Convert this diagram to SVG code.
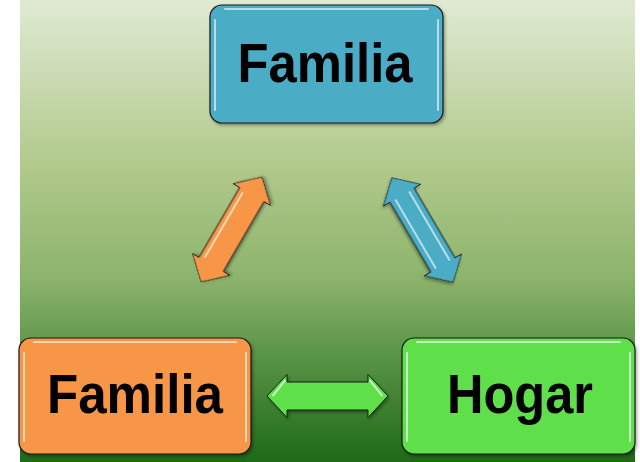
<svg xmlns="http://www.w3.org/2000/svg" width="640" height="462" viewBox="0 0 640 462">
<defs>
<linearGradient id="bg" x1="0" y1="0" x2="0" y2="1">
<stop offset="0" stop-color="#e0ead3"/>
<stop offset="0.35" stop-color="#b2ca8d"/>
<stop offset="0.6" stop-color="#8db46c"/>
<stop offset="0.75" stop-color="#5f984a"/>
<stop offset="1" stop-color="#1e6a16"/>
</linearGradient>
<filter id="sh" x="-10%" y="-10%" width="125%" height="130%">
<feDropShadow dx="1.5" dy="2" stdDeviation="1.5" flood-color="#000" flood-opacity="0.35"/>
</filter>
<path id="dbl" d="M-60.5,0 L-40.5,-21.5 L-40.5,-14 L40.5,-14 L40.5,-21.5 L60.5,0 L40.5,21.5 L40.5,14 L-40.5,14 L-40.5,21.5 Z"/>
</defs>
<style>
.node rect.b{stroke:#1a1a1a;stroke-width:1.2;filter:url(#sh)}
.node path.g{fill:none;stroke:#ffffff;stroke-opacity:0.6;stroke-width:2;stroke-linecap:round}
.node text{font-family:"Liberation Sans",Arial,sans-serif;font-weight:bold;font-size:55px;fill:#000;text-anchor:middle}
.arr use{stroke:#1a1a1a;stroke-width:1;filter:url(#sh)}
.arr .hl{fill:none;stroke:#ffffff;stroke-opacity:0.6;stroke-width:2}
</style>
<rect x="20" y="0" width="615" height="462" fill="url(#bg)"/>

<g id="connectors" class="arr">
<g id="arrow-orange" transform="translate(231.5,229.5) rotate(-59.8)">
<use href="#dbl" fill="#f79646"/>
<path class="hl" d="M-38,-9 L38,-9"/>
</g>
<g id="arrow-blue" transform="translate(422.5,230) rotate(59.6)">
<use href="#dbl" fill="#4bacc6"/>
<path class="hl" d="M-40,-8 L40,-8 M-40,8 L40,8"/>
</g>
<g id="arrow-green" transform="translate(327.5,396)">
<use href="#dbl" fill="#5fe04c"/>
<path class="hl" d="M-55,0 L-42,-16 M55,0 L42,-16"/>
</g>
</g>

<g id="node-top" class="node">
<rect class="b" x="210" y="5" width="233" height="118" rx="12" fill="#4bacc6"/>
<path class="g" d="M215,20 L215,110 M438,20 L438,110 M225,9 L428,9"/>
<text x="325" y="82" textLength="175" lengthAdjust="spacingAndGlyphs">Familia</text>
</g>

<g id="node-left" class="node">
<rect class="b" x="19" y="338" width="232" height="116" rx="12" fill="#f79646"/>
<path class="g" d="M24,353 L24,441 M246,353 L246,441 M34,342 L236,342"/>
<text x="135" y="413" textLength="176" lengthAdjust="spacingAndGlyphs">Familia</text>
</g>

<g id="node-right" class="node">
<rect class="b" x="402" y="338" width="233" height="116" rx="12" fill="#5fe04c"/>
<path class="g" d="M407,353 L407,441 M630,353 L630,441 M417,342 L620,342"/>
<text x="520" y="413" textLength="146" lengthAdjust="spacingAndGlyphs">Hogar</text>
</g>
</svg>
